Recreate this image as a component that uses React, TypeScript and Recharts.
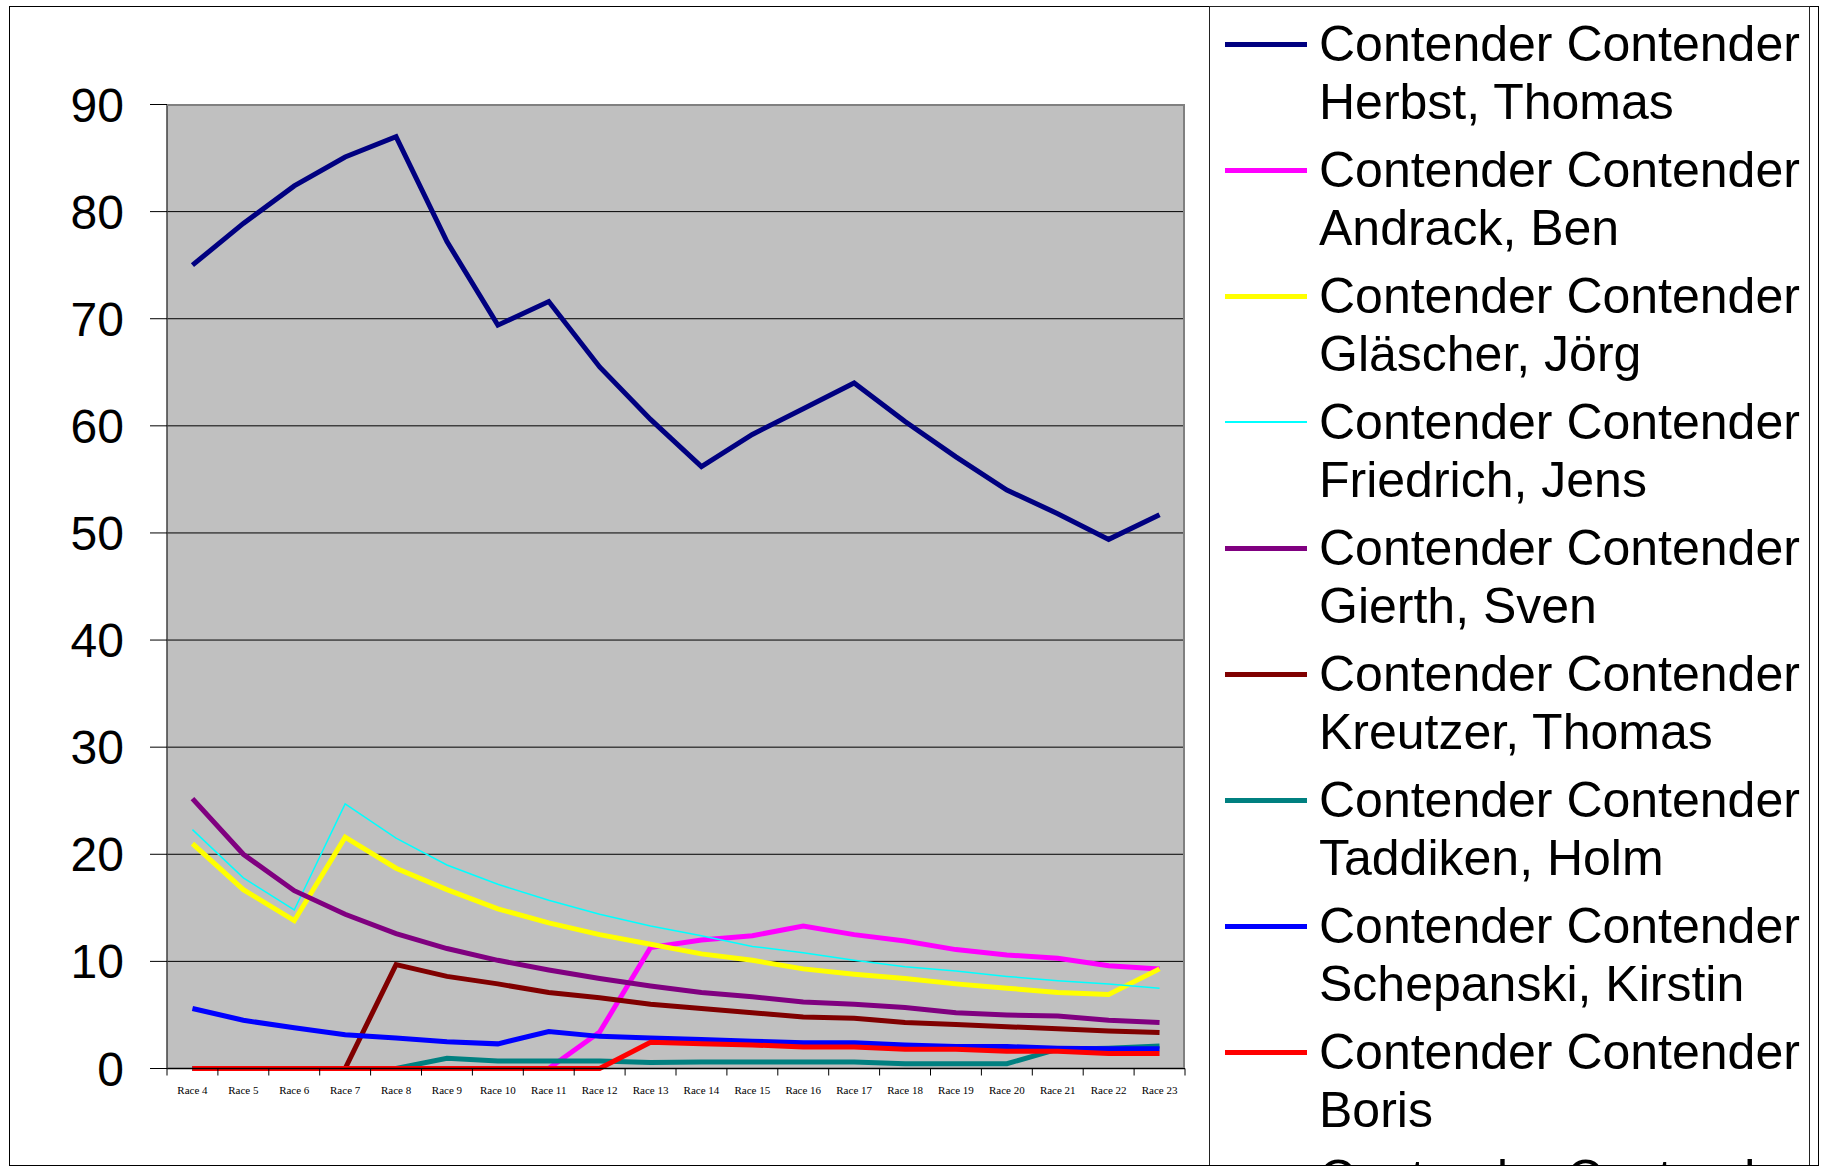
import React from "react";
import { LineChart, Line, XAxis, YAxis, CartesianGrid } from "recharts";

const races = [
  "Race 4", "Race 5", "Race 6", "Race 7", "Race 8", "Race 9", "Race 10", "Race 11", "Race 12", "Race 13",
  "Race 14", "Race 15", "Race 16", "Race 17", "Race 18", "Race 19", "Race 20", "Race 21", "Race 22", "Race 23",
];

const herbst = [75.0, 78.9, 82.4, 85.1, 87.0, 77.2, 69.4, 71.6, 65.5, 60.6, 56.2, 59.2, 61.6, 64.0, 60.4, 57.1, 54.0, 51.8, 49.4, 51.7];
const andrack = [0, 0, 0, 0, 0, 0, 0, 0, 3.4, 11.3, 12.0, 12.4, 13.3, 12.5, 11.9, 11.1, 10.6, 10.3, 9.6, 9.3];
const glaescher = [21.0, 16.7, 13.8, 21.6, 18.7, 16.7, 14.9, 13.6, 12.5, 11.6, 10.7, 10.1, 9.3, 8.8, 8.4, 7.9, 7.5, 7.1, 6.9, 9.3];
const friedrich = [22.3, 17.8, 14.8, 24.7, 21.5, 19.0, 17.2, 15.7, 14.4, 13.3, 12.4, 11.4, 10.8, 10.1, 9.5, 9.1, 8.6, 8.2, 7.9, 7.5];
const gierth = [25.2, 20.0, 16.6, 14.4, 12.6, 11.2, 10.1, 9.2, 8.4, 7.7, 7.1, 6.7, 6.2, 6.0, 5.7, 5.2, 5.0, 4.9, 4.5, 4.3];
const kreutzer = [0, 0, 0, 0, 9.7, 8.6, 7.9, 7.1, 6.6, 6.0, 5.6, 5.2, 4.8, 4.7, 4.3, 4.1, 3.9, 3.7, 3.5, 3.35];
const taddiken = [0, 0, 0, 0, 0, 0.95, 0.7, 0.7, 0.7, 0.55, 0.6, 0.6, 0.6, 0.6, 0.45, 0.45, 0.45, 1.8, 1.9, 2.1];
const schepanski = [5.6, 4.5, 3.8, 3.15, 2.85, 2.5, 2.3, 3.45, 3.0, 2.85, 2.7, 2.55, 2.4, 2.4, 2.2, 2.05, 2.05, 1.9, 1.85, 1.85];
const boris = [0, 0, 0, 0, 0, 0, 0, 0, 0, 2.45, 2.3, 2.2, 2.0, 2.0, 1.8, 1.8, 1.6, 1.6, 1.4, 1.4];

const yTicks = [0, 10, 20, 30, 40, 50, 60, 70, 80, 90];

const series = [
  { key: "herbst", name: "Herbst, Thomas", values: herbst, color: "#000080", width: 5 },
  { key: "andrack", name: "Andrack, Ben", values: andrack, color: "#FF00FF", width: 5 },
  { key: "glaescher", name: "Gläscher, Jörg", values: glaescher, color: "#FFFF00", width: 5 },
  { key: "friedrich", name: "Friedrich, Jens", values: friedrich, color: "#00FFFF", width: 1.5 },
  { key: "gierth", name: "Gierth, Sven", values: gierth, color: "#800080", width: 5 },
  { key: "kreutzer", name: "Kreutzer, Thomas", values: kreutzer, color: "#800000", width: 5 },
  { key: "taddiken", name: "Taddiken, Holm", values: taddiken, color: "#008080", width: 5 },
  { key: "schepanski", name: "Schepanski, Kirstin", values: schepanski, color: "#0000FF", width: 5 },
  { key: "boris", name: "Boris", values: boris, color: "#FF0000", width: 5 },
];

const data = races.map((race, i) => {
  const row: Record<string, string | number> = { race };
  series.forEach((s) => {
    row[s.key] = s.values[i];
  });
  return row;
});

// chart geometry
const CHART_W = 1200;
const CHART_H = 1167;
const PLOT_LEFT = 167;
const PLOT_RIGHT = 1185;
const PLOT_TOP = 104.5;
const PLOT_BOTTOM = 1068.5;
const STEP = (PLOT_RIGHT - PLOT_LEFT) / races.length;

const XTick = (props: any) => {
  const { x, y, payload, index } = props;
  const isLast = index === races.length - 1;
  return (
    <g>
      <line x1={x - STEP / 2} x2={x - STEP / 2} y1={y} y2={y + 7} stroke="#000" strokeWidth={1} />
      {isLast && <line x1={x + STEP / 2} x2={x + STEP / 2} y1={y} y2={y + 7} stroke="#000" strokeWidth={1} />}
      <text x={x} y={y + 25} textAnchor="middle" fontSize={11} fontFamily="'Liberation Serif', serif" fill="#000">
        {payload.value}
      </text>
    </g>
  );
};

const legendItems = [
  ...series.map((s) => ({ name: s.name, color: s.color, width: s.width })),
  { name: "", color: "#00CCFF", width: 5 },
];

const App: React.FC = () => {
  return (
    <div style={{ position: "absolute", left: 0, top: 0, width: 1821, height: 1167, background: "#fff", overflow: "hidden" }}>
      <div
        style={{
          position: "absolute",
          left: 9,
          top: 6,
          width: 1810,
          height: 1160,
          border: "1px solid #000",
          boxSizing: "border-box",
        }}
      />
      <div style={{ position: "absolute", left: 0, top: 0 }}>
        <LineChart
          width={CHART_W}
          height={CHART_H}
          data={data}
          margin={{ top: PLOT_TOP, right: CHART_W - PLOT_RIGHT, bottom: CHART_H - PLOT_BOTTOM - 40, left: 0 }}
        >
          <CartesianGrid vertical={false} stroke="#000" strokeOpacity={1} fill="#C0C0C0" fillOpacity={1} />
          <XAxis
            dataKey="race"
            height={40}
            interval={0}
            padding={{ left: STEP / 2, right: STEP / 2 }}
            tickLine={false}
            tickSize={0}
            tickMargin={0}
            axisLine={{ stroke: "#000", strokeWidth: 1.5 }}
            tick={<XTick />}
          />
          <YAxis
            width={PLOT_LEFT}
            domain={[0, 90]}
            ticks={yTicks}
            interval={0}
            tickSize={17}
            tickMargin={26}
            axisLine={{ stroke: "#404040", strokeWidth: 1.5 }}
            tickLine={{ stroke: "#000" }}
            tick={{ fontSize: 48, fill: "#000", fontFamily: "'Liberation Sans', Arial, sans-serif" }}
          />
          {series.map((s) => (
            <Line
              key={s.key}
              type="linear"
              dataKey={s.key}
              name={s.name}
              stroke={s.color}
              strokeWidth={s.width}
              dot={false}
              activeDot={false}
              isAnimationActive={false}
            />
          ))}
        </LineChart>
      </div>
      {/* plot border: grey top and right edges */}
      <div
        style={{
          position: "absolute",
          left: PLOT_LEFT,
          top: PLOT_TOP - 1,
          width: PLOT_RIGHT - PLOT_LEFT,
          height: PLOT_BOTTOM - PLOT_TOP,
          borderTop: "2px solid #808080",
          borderRight: "2px solid #808080",
          boxSizing: "border-box",
          pointerEvents: "none",
        }}
      />
      <div
        style={{
          position: "absolute",
          left: 1209,
          top: 6,
          width: 601,
          height: 1159,
          borderLeft: "1px solid #222",
          borderRight: "1px solid #222",
          borderTop: "1px solid #222",
          boxSizing: "border-box",
          overflow: "hidden",
          fontFamily: "'Liberation Sans', Arial, sans-serif",
          fontSize: 50,
          lineHeight: "58px",
          color: "#000",
        }}
      >
        <div style={{ position: "absolute", left: 15, top: 8 }}>
          {legendItems.map((item, i) => (
            <div key={i} style={{ display: "flex", alignItems: "flex-start", height: 116, marginBottom: 10 }}>
              <div
                style={{
                  width: 82,
                  height: item.width,
                  background: item.color,
                  marginTop: 29 - item.width / 2,
                  marginRight: 12,
                  flex: "none",
                }}
              />
              <div style={{ whiteSpace: "nowrap" }}>
                <div>Contender Contender</div>
                <div>{item.name}</div>
              </div>
            </div>
          ))}
        </div>
      </div>
    </div>
  );
};

export default App;
